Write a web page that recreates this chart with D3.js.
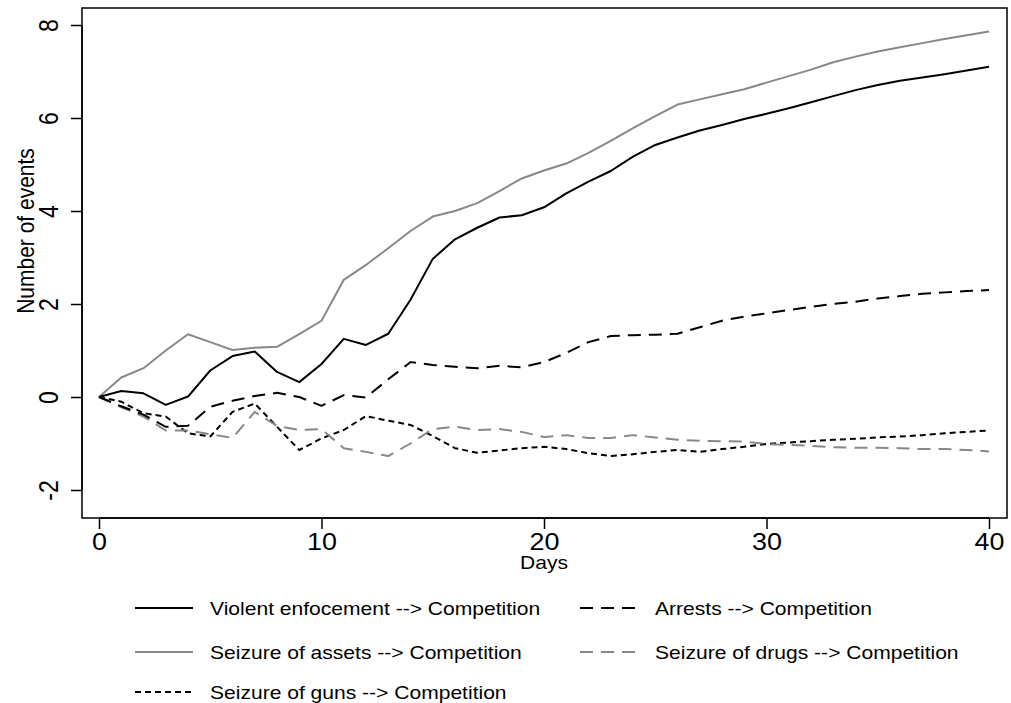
<!DOCTYPE html>
<html>
<head>
<meta charset="utf-8">
<script src="https://cdn.jsdelivr.net/npm/d3@7"></script>
<style>
    body { margin: 0; background: #fff; }
    svg { display: block; font-family: "Liberation Sans", Arial, sans-serif; }
</style>
</head>
<body>
<div id="chart"></div>
<script>
var days = d3.range(0, 41);

var violent = [0, 0.13, 0.08, -0.17, 0.01, 0.57, 0.88, 0.98, 0.54, 0.32, 0.71,
    1.25, 1.12, 1.36, 2.09, 2.97, 3.39, 3.64, 3.86, 3.91, 4.08,
    4.38, 4.63, 4.86, 5.17, 5.42, 5.58, 5.73, 5.85, 5.98, 6.09,
    6.21, 6.34, 6.47, 6.60, 6.71, 6.80, 6.87, 6.94, 7.02, 7.10];
var assets = [0, 0.42, 0.62, 1.0, 1.35, 1.18, 1.01, 1.06, 1.08, 1.35, 1.64,
    2.52, 2.84, 3.2, 3.57, 3.88, 4.0, 4.17, 4.43, 4.70, 4.87,
    5.02, 5.25, 5.51, 5.78, 6.04, 6.29, 6.40, 6.51, 6.62, 6.76,
    6.90, 7.04, 7.20, 7.32, 7.43, 7.52, 7.61, 7.70, 7.78, 7.86];
var arrests = [0, -0.2, -0.38, -0.64, -0.62, -0.21, -0.08, 0.02, 0.09, 0.0, -0.19,
    0.04, -0.01, 0.38, 0.75, 0.69, 0.65, 0.62, 0.67, 0.64, 0.75,
    0.95, 1.18, 1.31, 1.33, 1.34, 1.36, 1.50, 1.64, 1.73, 1.80,
    1.87, 1.94, 2.0, 2.05, 2.12, 2.17, 2.22, 2.25, 2.28, 2.30];
var drugs = [0, -0.22, -0.42, -0.72, -0.72, -0.8, -0.88, -0.32, -0.62, -0.71, -0.69,
    -1.10, -1.18, -1.27, -1.0, -0.69, -0.64, -0.71, -0.69, -0.75, -0.86,
    -0.82, -0.88, -0.88, -0.82, -0.87, -0.92, -0.94, -0.95, -0.96, -1.01,
    -1.03, -1.05, -1.08, -1.09, -1.09, -1.10, -1.12, -1.12, -1.14, -1.17];
var guns = [0, -0.1, -0.35, -0.42, -0.78, -0.85, -0.32, -0.14, -0.64, -1.14, -0.89,
    -0.71, -0.41, -0.51, -0.60, -0.84, -1.10, -1.20, -1.15, -1.10, -1.07,
    -1.12, -1.21, -1.27, -1.23, -1.18, -1.14, -1.18, -1.12, -1.07, -1.01,
    -0.98, -0.95, -0.92, -0.90, -0.87, -0.85, -0.82, -0.78, -0.75, -0.72];

var xTicks = [0, 10, 20, 30, 40];
var yTicks = [-2, 0, 2, 4, 6, 8];

var seriesNames = [
    'Violent enfocement --> Competition',
    'Arrests --> Competition',
    'Seizure of assets --> Competition',
    'Seizure of drugs --> Competition',
    'Seizure of guns --> Competition'
];
var seriesValues = [violent, arrests, assets, drugs, guns];

// drawing styles per series (same order as seriesNames)
var styles = [
    { color: '#000', dash: null, width: 2 },
    { color: '#000', dash: '13,8', width: 2 },
    { color: '#888', dash: null, width: 2 },
    { color: '#888', dash: '13,8', width: 2 },
    { color: '#000', dash: '6,4', width: 2 }
];

var width = 1011, height = 703,
    stretch = 1.17, // the original text is a bit wider than it is tall
    frame = { left: 82, right: 1007, top: 8, bottom: 518 };

var svg = d3.select('#chart').append('svg')
    .attr('width', width)
    .attr('height', height);

var x = d3.scaleLinear().domain([0, 40]).range([99, 989]);
var y = d3.scaleLinear().domain([-2, 8]).range([490, 25]);

svg.append('rect')
    .attr('x', frame.left)
    .attr('y', frame.top)
    .attr('width', frame.right - frame.left)
    .attr('height', frame.bottom - frame.top)
    .attr('fill', 'none')
    .attr('stroke', '#000')
    .attr('stroke-width', 1.5);

var fmt = function (d) { return String(d); };

var xAxis = svg.append('g')
    .attr('transform', 'translate(0,' + frame.bottom + ')')
    .call(d3.axisBottom(x).tickValues(xTicks).tickFormat(fmt).tickSize(11).tickSizeOuter(0).tickPadding(5));
xAxis.select('.domain').attr('d', 'M' + x(0) + ',0H' + x(40)).attr('stroke-width', 1.5);
xAxis.selectAll('.tick line').attr('stroke-width', 1.5);
xAxis.selectAll('.tick text')
    .attr('font-size', 23)
    .attr('fill', '#000')
    .attr('font-family', 'Liberation Sans, Arial, sans-serif')
    .attr('transform', 'scale(' + stretch + ',1)');

var yAxis = svg.append('g')
    .attr('transform', 'translate(' + frame.left + ',0)')
    .call(d3.axisLeft(y).tickValues(yTicks).tickFormat(fmt).tickSize(11).tickSizeOuter(0));
yAxis.select('.domain').attr('d', 'M0,' + y(-2) + 'V' + y(8)).attr('stroke-width', 1.5);
yAxis.selectAll('.tick line').attr('stroke-width', 1.5);
yAxis.selectAll('.tick text')
    .attr('font-size', 23)
    .attr('fill', '#000')
    .attr('font-family', 'Liberation Sans, Arial, sans-serif')
    .attr('text-anchor', 'middle')
    .attr('dy', null)
    .attr('x', 0)
    .attr('y', 0)
    .attr('transform', 'translate(-24,0) rotate(-90) scale(1,' + stretch + ')');

svg.append('text')
    .attr('transform', 'translate(' + x(20) + ',569) scale(' + stretch + ',1)')
    .attr('text-anchor', 'middle')
    .attr('font-size', 18)
    .text('Days');

svg.append('text')
    .attr('transform', 'translate(34,231) rotate(-90) scale(1,' + stretch + ')')
    .attr('text-anchor', 'middle')
    .attr('font-size', 21)
    .text('Number of events');

var line = d3.line()
    .x(function (d, i) { return x(days[i]); })
    .y(function (d) { return y(d); });

// draw in reverse so the solid lines sit on top
var order = [4, 3, 1, 2, 0];
order.forEach(function (k) {
    svg.append('path')
        .datum(seriesValues[k])
        .attr('d', line)
        .attr('fill', 'none')
        .attr('stroke', styles[k].color)
        .attr('stroke-width', styles[k].width)
        .attr('stroke-dasharray', styles[k].dash)
        .attr('stroke-linejoin', 'round');
});

// legend, two columns
var legendPos = [
    { x: 135, y: 608 }, { x: 580, y: 608 },
    { x: 135, y: 652 }, { x: 580, y: 652 },
    { x: 135, y: 692 }
];

var legend = svg.append('g');
seriesNames.forEach(function (name, k) {
    var p = legendPos[k],
        g = legend.append('g').attr('transform', 'translate(' + p.x + ',' + p.y + ')');
    g.append('line')
        .attr('x1', 0).attr('x2', 58)
        .attr('y1', 0).attr('y2', 0)
        .attr('stroke', styles[k].color)
        .attr('stroke-width', styles[k].width)
        .attr('stroke-dasharray', styles[k].dash);
    g.append('text')
        .attr('transform', 'translate(75,6.5) scale(' + stretch + ',1)')
        .attr('font-size', 18)
        .text(name);
});
</script>
</body>
</html>
